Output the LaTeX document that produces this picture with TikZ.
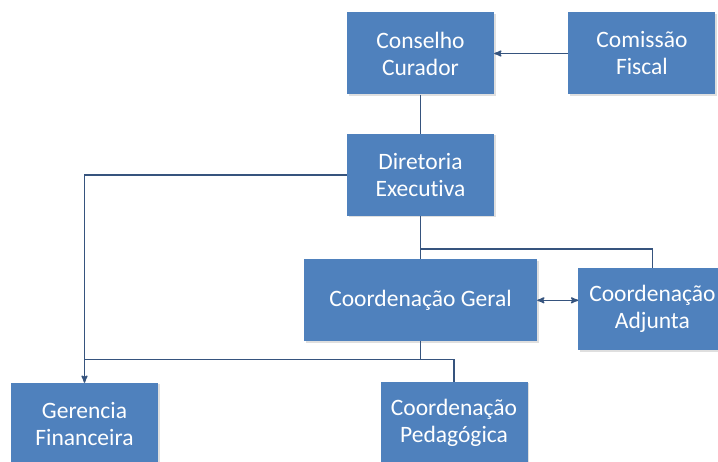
\documentclass[tikz,border=0pt]{standalone}
\usepackage{fontspec}
\setmainfont{Carlito}[Ligatures=NoCommon]
\usetikzlibrary{arrows,positioning,shadows}
\definecolor{boxblue}{HTML}{4F81BD}
\definecolor{linkblue}{HTML}{36547E}

\begin{document}
\begin{tikzpicture}[x=1pt,y=1pt,>=stealth',node distance=40pt,
	box/.style={rectangle,fill=boxblue,text=white,align=center,
		minimum width=147pt,minimum height=82pt,inner sep=0pt,
		font=\fontsize{23.5}{27}\selectfont,
		drop shadow={opacity=0.25,shadow xshift=1.5pt,shadow yshift=-1.5pt}},
	link/.style={draw=linkblue,line width=1.5pt}]

\clip (0,0) rectangle (718,-462);
\useasboundingbox (0,0) rectangle (718,-462);

\node[box]   (cc) at (420.5,-53.5)           {Conselho\\Curador};
\node[box]   (cf)[right=74pt of cc]          {Comissão\\Fiscal};
\node[box]   (de)[below=39pt of cc]          {Diretoria\\Executiva};
\node[box,minimum width=233pt] (cg)[below=43pt of de] {Coordenação Geral};
\node[box,minimum width=148pt] (ca)[right=41pt of cg,yshift=-9pt] {Coordenação\\Adjunta};
\node[box]   (gf) at (84.5,-424)             {Gerencia\\Financeira};
\node[box]   (cp) at (454,-423)              {Coordenação\\Pedagógica};

	\draw[link,->] (cf) -- (cc);
	\draw[link] (cc) -- (de);
	\draw[link,->] (de.west) -| (gf.north);
	\draw[link] (de.south) -- ++(0,-33) coordinate (j1) -| (ca.north);
	\draw[link] (j1) -- (cg.north);
	\draw[link,<->] (cg.east) -- (cg.east -| ca.west);
	\draw[link] (cg.south) -- ++(0,-18) coordinate (j2) -| (cp.north);
	\draw[link] (j2) -- (j2 -| gf.north);

\end{tikzpicture}
\end{document}
